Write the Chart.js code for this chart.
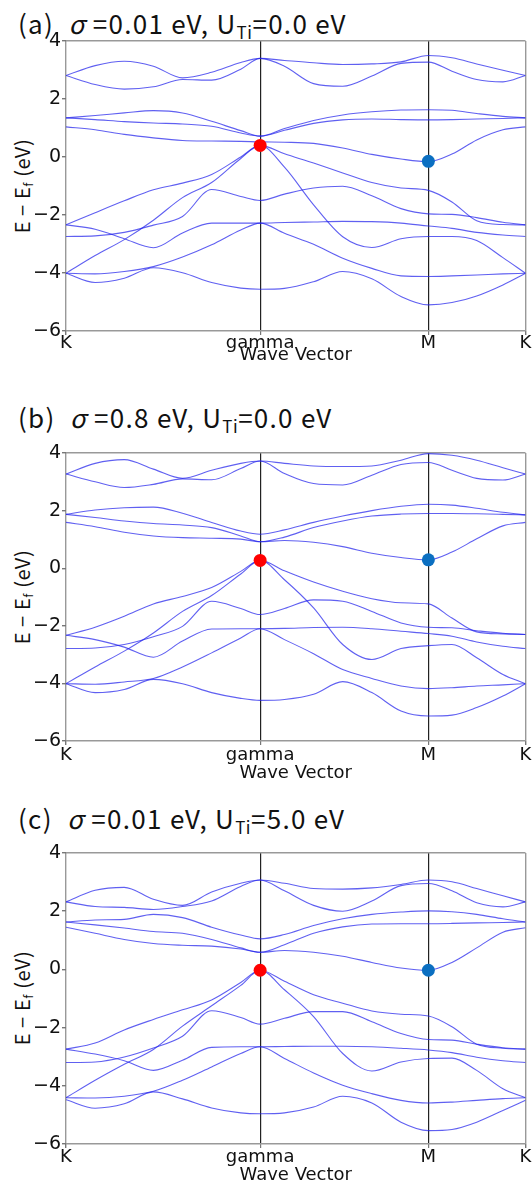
<!DOCTYPE html>
<html>
<head>
<meta charset="utf-8">
<script src="https://cdn.jsdelivr.net/npm/chart.js@4"></script>
<style>
  body { margin: 0; background: #fff; }
  #fig { position: relative; width: 532px; height: 1187px; overflow: hidden; background: #fff; }
  .ttl { position: absolute; left: 18px; font-family: "Noto Sans CJK JP", "Noto Sans", sans-serif; font-size: 26px; line-height: 26px; letter-spacing: 1.3px; color: #111; white-space: nowrap; }
  .ttl sub { font-size: 17px; vertical-align: -5px; line-height: 0; letter-spacing: 0.5px; }
  .ylab { position: absolute; left: 22px; font-family: "Noto Sans CJK JP", "Noto Sans", sans-serif; font-size: 20px; line-height: 20px; letter-spacing: 0.6px; color: #111; white-space: nowrap; transform: translate(-50%, -50%) rotate(-90deg); }
  .ylab sub { font-size: 13px; vertical-align: -3px; line-height: 0; }
  .panel { position: absolute; left: 0; width: 532px; }
</style>
</head>
<body>
<div id="fig">
  <div class="ttl" style="top:10px">(a)&ensp;<i>σ</i> =0.01 eV, U<sub>Ti</sub>=0.0 eV</div>
  <div class="ylab" style="top:186px">E − E<sub>f</sub> (eV)</div>
  <div class="panel" style="top:27px"><canvas id="chartA" width="532" height="339"></canvas></div>

  <div class="ttl" style="top:404px">(b)&ensp;<i>σ</i> =0.8 eV, U<sub>Ti</sub>=0.0 eV</div>
  <div class="ylab" style="top:597px">E − E<sub>f</sub> (eV)</div>
  <div class="panel" style="top:439px"><canvas id="chartB" width="532" height="345"></canvas></div>

  <div class="ttl" style="top:805px">(c)&ensp;<i>σ</i> =0.01 eV, U<sub>Ti</sub>=5.0 eV</div>
  <div class="ylab" style="top:998px">E − E<sub>f</sub> (eV)</div>
  <div class="panel" style="top:839px"><canvas id="chartC" width="532" height="347"></canvas></div>
</div>

<script>
// k-path positions (K -> gamma -> M -> K), shared by every band
const xs = [0, 0.2, 0.4, 0.6, 0.8, 1.0, 1.2, 1.333, 1.5, 1.7, 1.9, 2.1, 2.3, 2.488, 2.65, 2.82, 3.0, 3.155];
const tickPos = [0, 1.333, 2.488, 3.155];
const tickNames = ["K", "gamma", "M", "K"];
const yTicks = [-6, -4, -2, 0, 2, 4];

// (a) sigma=0.01 eV, U=0
const bandsA = [
  [2.81, 3.15, 3.30, 3.13, 2.73, 2.92, 3.26, 3.40, 3.33, 3.25, 3.19, 3.21, 3.28, 3.50, 3.42, 3.21, 2.99, 2.81],
  [2.81, 2.50, 2.34, 2.42, 2.67, 2.65, 3.03, 3.40, 3.13, 2.53, 2.44, 2.79, 3.23, 3.27, 2.96, 2.67, 2.59, 2.81],
  [1.35, 1.43, 1.52, 1.60, 1.52, 1.23, 0.91, 0.72, 0.98, 1.26, 1.45, 1.56, 1.62, 1.63, 1.61, 1.50, 1.40, 1.35],
  [1.35, 1.29, 1.22, 1.17, 1.14, 1.06, 0.83, 0.72, 0.92, 1.16, 1.28, 1.31, 1.29, 1.28, 1.29, 1.31, 1.33, 1.35],
  [1.04, 0.94, 0.78, 0.66, 0.57, 0.55, 0.54, 0.52, 0.51, 0.47, 0.31, 0.09, -0.07, -0.16, 0.10, 0.59, 0.94, 1.04],
  [-2.34, -1.92, -1.51, -1.13, -0.90, -0.60, 0.00, 0.40, 0.11, -0.21, -0.55, -0.88, -1.07, -1.15, -1.55, -2.20, -2.33, -2.34],
  [-4.01, -3.40, -2.85, -2.18, -1.40, -0.88, -0.05, 0.40, -0.35, -1.65, -2.75, -3.12, -2.82, -2.74, -2.74, -2.88, -3.47, -4.01],
  [-2.74, -2.72, -2.60, -2.35, -2.05, -1.12, -1.36, -1.50, -1.28, -1.07, -1.01, -1.34, -1.78, -1.96, -1.98, -2.09, -2.25, -2.34],
  [-2.34, -2.49, -2.82, -3.13, -2.62, -2.28, -2.28, -2.28, -2.26, -2.24, -2.22, -2.23, -2.28, -2.38, -2.46, -2.60, -2.69, -2.74],
  [-4.01, -4.03, -3.95, -3.78, -3.45, -3.03, -2.52, -2.28, -2.63, -3.01, -3.49, -3.84, -4.10, -4.12, -4.10, -4.07, -4.03, -4.01],
  [-4.01, -4.33, -4.18, -3.82, -3.99, -4.33, -4.52, -4.56, -4.53, -4.30, -3.95, -4.20, -4.81, -5.10, -5.02, -4.79, -4.41, -4.01]
];

// (b) sigma=0.8 eV, U=0
const bandsB = [
  [3.27, 3.64, 3.77, 3.44, 3.12, 3.40, 3.64, 3.72, 3.64, 3.55, 3.53, 3.55, 3.75, 3.98, 3.92, 3.75, 3.49, 3.27],
  [3.27, 3.00, 2.80, 2.91, 3.10, 3.07, 3.46, 3.72, 3.29, 2.94, 2.89, 3.23, 3.60, 3.67, 3.40, 3.12, 3.06, 3.27],
  [1.87, 2.02, 2.10, 2.12, 1.91, 1.59, 1.29, 1.18, 1.33, 1.59, 1.81, 2.00, 2.15, 2.22, 2.19, 2.08, 1.94, 1.85],
  [1.87, 1.76, 1.64, 1.55, 1.50, 1.41, 1.12, 0.92, 1.08, 1.41, 1.64, 1.81, 1.88, 1.90, 1.90, 1.89, 1.87, 1.85],
  [1.59, 1.44, 1.25, 1.12, 1.06, 1.04, 1.01, 0.92, 0.96, 0.90, 0.75, 0.52, 0.37, 0.29, 0.56, 1.02, 1.47, 1.59],
  [-2.33, -2.05, -1.67, -1.24, -0.98, -0.67, -0.11, 0.27, -0.09, -0.48, -0.80, -1.06, -1.20, -1.24, -1.73, -2.21, -2.28, -2.30],
  [-4.01, -3.43, -2.88, -2.25, -1.50, -0.95, -0.20, 0.27, -0.40, -1.38, -2.65, -3.17, -2.79, -2.69, -2.65, -3.11, -3.69, -4.01],
  [-2.79, -2.77, -2.65, -2.38, -2.02, -1.15, -1.40, -1.61, -1.40, -1.10, -1.15, -1.50, -1.90, -2.05, -2.07, -2.17, -2.26, -2.30],
  [-2.33, -2.48, -2.74, -3.09, -2.53, -2.11, -2.10, -2.10, -2.09, -2.06, -2.05, -2.10, -2.19, -2.27, -2.36, -2.56, -2.71, -2.79],
  [-4.01, -4.03, -3.95, -3.83, -3.43, -2.94, -2.42, -2.10, -2.48, -2.97, -3.52, -3.83, -4.09, -4.18, -4.15, -4.09, -4.05, -4.01],
  [-4.01, -4.32, -4.21, -3.86, -4.01, -4.32, -4.52, -4.59, -4.56, -4.38, -3.94, -4.32, -4.96, -5.13, -5.10, -4.84, -4.44, -4.01]
];

// (c) sigma=0.01 eV, U=5
const bandsC = [
  [2.32, 2.72, 2.82, 2.41, 2.20, 2.66, 2.96, 3.07, 2.96, 2.78, 2.76, 2.80, 2.92, 3.07, 3.01, 2.78, 2.53, 2.32],
  [2.32, 2.16, 2.13, 2.06, 2.16, 2.35, 2.85, 3.07, 2.70, 2.20, 2.00, 2.35, 2.88, 2.95, 2.70, 2.29, 2.15, 2.32],
  [1.63, 1.70, 1.72, 1.89, 1.78, 1.45, 1.18, 1.05, 1.20, 1.51, 1.74, 1.89, 1.97, 2.01, 1.98, 1.89, 1.74, 1.63],
  [1.63, 1.53, 1.42, 1.30, 1.24, 1.03, 0.74, 0.59, 0.85, 1.24, 1.46, 1.56, 1.57, 1.57, 1.58, 1.60, 1.61, 1.63],
  [1.45, 1.24, 1.03, 0.89, 0.83, 0.80, 0.70, 0.59, 0.65, 0.59, 0.45, 0.24, 0.05, -0.03, 0.24, 0.74, 1.28, 1.43],
  [-2.74, -2.53, -2.08, -1.72, -1.39, -1.05, -0.45, -0.03, -0.41, -0.87, -1.16, -1.43, -1.54, -1.60, -1.97, -2.57, -2.71, -2.74],
  [-4.41, -3.81, -3.26, -2.75, -1.95, -1.25, -0.55, -0.03, -0.70, -1.62, -2.89, -3.49, -3.18, -3.06, -3.05, -3.47, -4.10, -4.41],
  [-3.20, -3.18, -3.01, -2.70, -2.30, -1.42, -1.65, -1.88, -1.68, -1.45, -1.45, -1.80, -2.20, -2.41, -2.43, -2.57, -2.69, -2.74],
  [-2.74, -2.91, -3.14, -3.47, -3.12, -2.68, -2.66, -2.66, -2.65, -2.64, -2.64, -2.66, -2.71, -2.77, -2.86, -3.02, -3.14, -3.20],
  [-4.41, -4.42, -4.36, -4.19, -3.81, -3.35, -2.89, -2.66, -3.06, -3.56, -3.98, -4.27, -4.50, -4.59, -4.56, -4.50, -4.44, -4.41],
  [-4.48, -4.77, -4.62, -4.21, -4.45, -4.76, -4.93, -4.96, -4.93, -4.73, -4.36, -4.59, -5.25, -5.54, -5.50, -5.25, -4.85, -4.50]
];

// band edges marked with dots: at gamma (red) and at M (blue), per panel a, b, c
const gammaDot = [0.40, 0.27, -0.03];
const mDot = [-0.15, 0.29, -0.03];

const xFont = { family: "'DejaVu Sans', sans-serif", size: 18, lineHeight: 1 };
const yFont = { family: "'DejaVu Sans', sans-serif", size: 19 };
const titleFont = { family: "'DejaVu Sans', sans-serif", size: 18 };

function drawPanel(id, bands, panel, xAxisH, tickPad) {
  const datasets = bands.map(b => ({
    data: b.map((y, i) => ({ x: xs[i], y })),
    borderColor: "rgba(35,35,235,0.72)",
    borderWidth: 1.1,
    pointRadius: 0,
    cubicInterpolationMode: "monotone",
    order: 2
  }));
  datasets.push({
    type: "scatter",
    data: [{ x: tickPos[1], y: gammaDot[panel] }],
    pointRadius: 6.5, backgroundColor: "#ff0000", borderWidth: 0, order: 0
  });
  datasets.push({
    type: "scatter",
    data: [{ x: tickPos[2], y: mDot[panel] }],
    pointRadius: 6.5, backgroundColor: "#0b6fc1", borderWidth: 0, order: 0
  });

  new Chart(document.getElementById(id), {
    type: "line",
    data: { datasets },
    options: {
      responsive: false,
      animation: false,
      events: [],
      layout: { padding: { top: 14, right: 6, left: 0, bottom: 0 } },
      plugins: { legend: { display: false }, tooltip: { enabled: false } },
      scales: {
        x: {
          type: "linear", min: 0, max: 3.155,
          afterBuildTicks: s => { s.ticks = tickPos.map(v => ({ value: v })); },
          afterFit: s => { s.height = xAxisH; s.paddingLeft = 0; s.paddingRight = 0; },
          ticks: { callback: (v, i) => tickNames[i], font: xFont, color: "#111", maxRotation: 0, autoSkip: false, padding: tickPad },
          grid: {
            color: c => (c.index === 1 || c.index === 2) ? "#222" : "#999",
            lineWidth: c => (c.index === 1 || c.index === 2) ? 1.2 : 1.4,
            tickColor: "#777", tickLength: 4
          },
          border: { display: false },
          title: { display: true, text: "Wave Vector", font: titleFont, color: "#111", padding: 0 }
        },
        y: {
          min: -6, max: 4,
          afterBuildTicks: s => { s.ticks = yTicks.map(v => ({ value: v })); },
          afterFit: s => { s.width = 66; s.paddingTop = 0; s.paddingBottom = 0; },
          ticks: { callback: v => v < 0 ? "\u2212" + (-v) : String(v), font: yFont, color: "#111", padding: 1 },
          grid: {
            color: c => (c.tick && (c.tick.value === 4 || c.tick.value === -6)) ? "#999" : "rgba(0,0,0,0)",
            lineWidth: 1.4,
            tickColor: "#777", tickLength: 4
          },
          border: { display: false }
        }
      }
    }
  });
}

drawPanel("chartA", bandsA, 0, 35, -1);
drawPanel("chartB", bandsB, 1, 43, 1);
drawPanel("chartC", bandsC, 2, 42, 0);
</script>
</body>
</html>
